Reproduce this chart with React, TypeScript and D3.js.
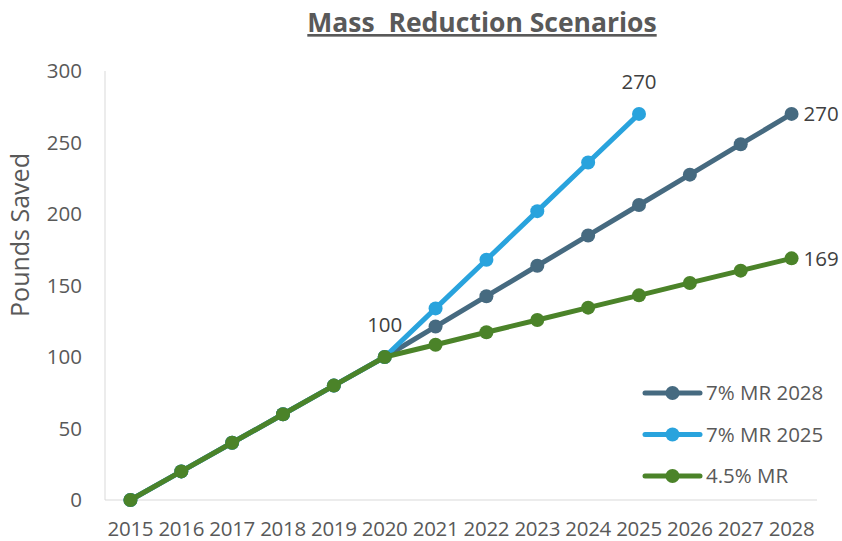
import React, { useEffect, useRef } from "react";
import * as d3 from "d3";

// years along the x axis
const years = [
  "2015", "2016", "2017", "2018", "2019", "2020", "2021",
  "2022", "2023", "2024", "2025", "2026", "2027", "2028",
];

// series values
const mr2028 = [0, 20, 40, 60, 80, 100, 121.3, 142.5, 163.8, 185, 206.3, 227.5, 248.8, 270];
const mr2025 = [0, 20, 40, 60, 80, 100, 134, 168, 202, 236, 270];
const mr45 = [0, 20, 40, 60, 80, 100, 108.6, 117.3, 125.9, 134.5, 143.1, 151.8, 160.4, 169];

const seriesNames = ["7% MR 2028", "7% MR 2025", "4.5% MR"];
const seriesColors = ["#466a80", "#29a3dd", "#4b8329"];
const yTicks = [0, 50, 100, 150, 200, 250, 300];

interface Label {
  series: number;
  index: number;
  pos: "above" | "right";
}
// data labels shown on the chart
const labels: Label[] = [
  { series: 2, index: 5, pos: "above" },
  { series: 1, index: 10, pos: "above" },
  { series: 0, index: 13, pos: "right" },
  { series: 2, index: 13, pos: "right" },
];

const FONT = "'Open Sans', 'Noto Sans', sans-serif";

export default function App() {
  const svgRef = useRef<SVGSVGElement | null>(null);

  useEffect(() => {
    if (!svgRef.current) return;
    const root = d3.select(svgRef.current);
    root.selectAll("*").remove();

    const W = 842;
    const H = 541;
    const margin = { top: 71, right: 25, bottom: 41, left: 105 };
    const width = 817 - margin.left;
    const height = H - margin.top - margin.bottom;

    root.attr("width", W).attr("height", H);

    // title
    root
      .append("text")
      .attr("x", 482)
      .attr("y", 32)
      .attr("text-anchor", "middle")
      .style("font-family", FONT)
      .style("font-size", "26.5px")
      .style("font-weight", "bold")
      .style("fill", "#595959")
      .style("white-space", "pre")
      .style("text-decoration", "underline")
      .text("Mass  Reduction Scenarios");

    const svg = root
      .append("g")
      .attr("transform", `translate(${margin.left},${margin.top})`);

    const x = d3.scalePoint<string>().domain(years).range([0, width]).padding(0.5);
    const y = d3.scaleLinear().domain([0, 300]).range([height, 0]);

    // axis lines
    svg
      .append("line")
      .attr("x1", 0)
      .attr("x2", 0)
      .attr("y1", 0)
      .attr("y2", height)
      .attr("stroke", "#d9d9d9")
      .attr("stroke-width", 1);
    svg
      .append("line")
      .attr("x1", 0)
      .attr("x2", width)
      .attr("y1", height)
      .attr("y2", height)
      .attr("stroke", "#d9d9d9")
      .attr("stroke-width", 1);

    // y tick labels
    svg
      .selectAll(".ytick")
      .data(yTicks)
      .enter()
      .append("text")
      .attr("x", -23)
      .attr("y", (d) => y(d))
      .attr("dy", "0.35em")
      .attr("text-anchor", "end")
      .style("font-family", FONT)
      .style("font-size", "20.5px")
      .style("fill", "#595959")
      .text((d) => d);

    // x tick labels
    svg
      .selectAll(".xtick")
      .data(years)
      .enter()
      .append("text")
      .attr("x", (d) => x(d) as number)
      .attr("y", height + 36)
      .attr("text-anchor", "middle")
      .style("font-family", FONT)
      .style("font-size", "20.5px")
      .style("letter-spacing", "-0.3px")
      .style("fill", "#595959")
      .text((d) => d);

    // y axis title
    root
      .append("text")
      .attr("transform", `translate(29,235) rotate(-90)`)
      .attr("text-anchor", "middle")
      .style("font-family", FONT)
      .style("font-size", "25px")
      .style("fill", "#595959")
      .text("Pounds Saved");

    const allSeries = [mr2028, mr2025, mr45];
    const line = d3
      .line<number>()
      .x((_, i) => x(years[i]) as number)
      .y((d) => y(d));

    allSeries.forEach((vals, s) => {
      const g = svg.append("g");
      g.append("path")
        .datum(vals)
        .attr("fill", "none")
        .attr("stroke", seriesColors[s])
        .attr("stroke-width", 5)
        .attr("stroke-linejoin", "round")
        .attr("d", line);
      g.selectAll("circle")
        .data(vals)
        .enter()
        .append("circle")
        .attr("cx", (_, i) => x(years[i]) as number)
        .attr("cy", (d) => y(d))
        .attr("r", 7)
        .attr("fill", seriesColors[s]);
    });

    // data labels
    labels.forEach((l) => {
      const v = allSeries[l.series][l.index];
      const px = x(years[l.index]) as number;
      const py = y(v);
      const t = svg
        .append("text")
        .style("font-family", FONT)
        .style("font-size", "20.5px")
        .style("fill", "#404040")
        .text(Math.round(v));
      if (l.pos === "right") {
        t.attr("x", px + 12).attr("y", py).attr("dy", "0.35em");
      } else {
        t.attr("x", px).attr("y", py - 25).attr("text-anchor", "middle");
      }
    });

    // legend
    const legend = root.append("g").attr("transform", "translate(645,393)");
    seriesNames.forEach((name, i) => {
      const row = legend.append("g").attr("transform", `translate(0,${i * 41.5})`);
      row
        .append("line")
        .attr("x1", 0)
        .attr("x2", 55)
        .attr("stroke", seriesColors[i])
        .attr("stroke-width", 5)
        .attr("stroke-linecap", "round");
      row.append("circle").attr("cx", 27.5).attr("r", 7).attr("fill", seriesColors[i]);
      row
        .append("text")
        .attr("x", 61)
        .attr("dy", "0.35em")
        .style("font-family", FONT)
        .style("font-size", "20.5px")
        .style("fill", "#595959")
        .text(name);
    });
  }, []);

  return (
    <div style={{ width: 842, height: 541 }}>
      <svg ref={svgRef} style={{ position: "absolute", left: 0, top: 0 }}></svg>
    </div>
  );
}
